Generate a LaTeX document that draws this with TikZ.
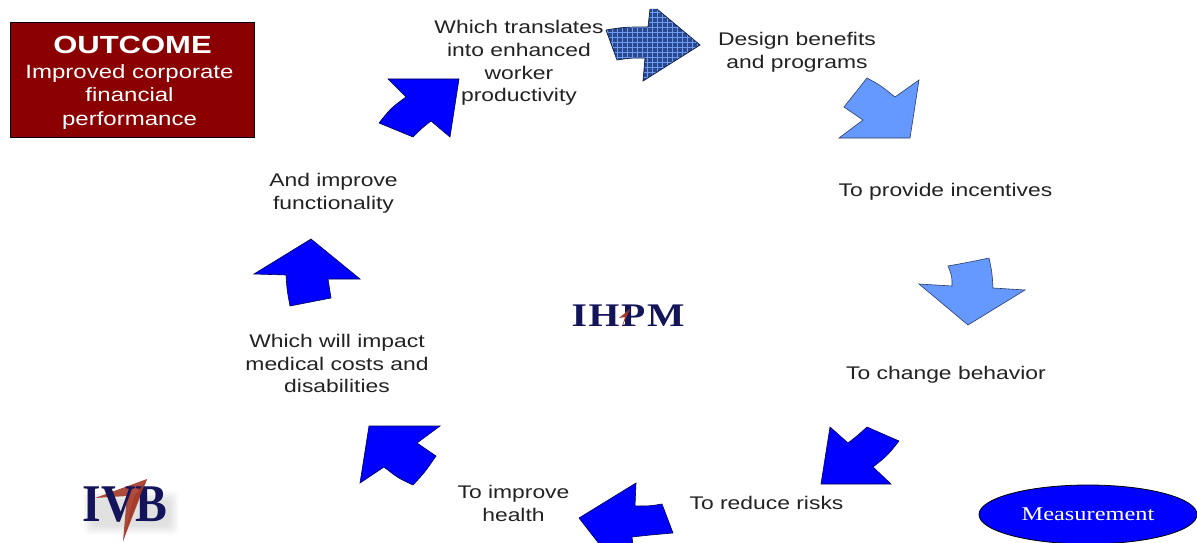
\documentclass[tikz,border=0pt]{standalone}
\usepackage{fontspec}
\usetikzlibrary{shapes.geometric}
\setmainfont{Liberation Sans}
\newfontfamily\lab[FakeStretch=1.25]{Liberation Sans}
\newfontfamily\logoA[FakeStretch=1.2,LetterSpace=5]{Liberation Serif}
\newfontfamily\logoB[FakeStretch=0.9]{Liberation Serif}
\newfontfamily\meas[FakeStretch=1.25]{Liberation Serif}
\definecolor{txt}{HTML}{222222}
\definecolor{strong}{HTML}{0000FF}
\definecolor{soft}{HTML}{6699FF}
\definecolor{hatchbg}{HTML}{2A4890}
\definecolor{hatchline}{HTML}{6E9CF0}
\definecolor{maroon}{HTML}{8B0000}
\definecolor{navy}{HTML}{14145A}
\definecolor{swoosh}{HTML}{A63A28}
\tikzset{
  x=1pt,y=-1pt,
  label text/.style={font=\lab\fontsize{18.3}{22.8}\selectfont,text=txt,align=center,inner sep=0pt},
  box text/.style={font=\lab\fontsize{19.2}{23.7}\selectfont,text=white,align=center,inner sep=0pt},
  bigarrow/.style={fill=strong,draw=black!70!strong,line width=.6pt,line join=miter},
  softarrow/.style={fill=soft,draw=black!60!soft,line width=.6pt,line join=miter},
}
\begin{document}
\begin{tikzpicture}
\useasboundingbox (0,0) rectangle (1197,543);
\clip (0,0) rectangle (1197,543);
\fill[white] (0,0) rectangle (1197,543);

% outcome box
\node[draw=black,line width=.8pt,fill=maroon,minimum width=244pt,minimum height=115pt,inner sep=0pt] (outcomebox) at (132,79.5) {};
\node[font=\lab\bfseries\fontsize{24.8}{26}\selectfont,text=white,inner sep=0pt] (outcome) at (132.5,45) {OUTCOME};
\node[box text] (improved) at (129.5,97) {Improved corporate\\financial\\performance};

% labels
\node[label text] (l1) at (519,63) {Which translates\\into enhanced\\worker\\productivity};
\node[label text] (l2) at (797,52) {Design benefits\\and programs};
\node[label text] (l3) at (945.5,192) {To provide incentives};
\node[label text] (l4) at (946,375) {To change behavior};
\node[label text] (l5) at (766.5,503) {To reduce risks};
\node[label text] (l6) at (513.5,503.5) {To improve\\health};
\node[label text] (l7) at (337,363.5) {Which will impact\\medical costs and\\disabilities};
\node[label text] (l8) at (333.5,193) {And improve\\functionality};

% hatched arrow
\begin{scope}
\clip (606,30) .. controls (625,27) .. (648,27) -- (650,9) -- (657,9) -- (700,45) -- (643,81) -- (645,58) .. controls (630,58) .. (617,60) -- cycle;
\fill[hatchbg] (600,0) rectangle (705,85);
\foreach \g in {0,...,21} {
  \draw[hatchline,line width=.9pt] (602+5*\g,0) -- (602+5*\g,85);
}
\foreach \g in {0,...,16} {
  \draw[hatchline,line width=.9pt] (600,2+5*\g) -- (705,2+5*\g);
}
\end{scope}
\draw[black!60!hatchbg,line width=.7pt] (606,30) .. controls (625,27) .. (648,27) -- (650,9) (657,9) -- (700,45) -- (643,81) -- (645,58) .. controls (630,58) .. (617,60) -- (606,30);

% arrows around the cycle
\draw[softarrow] (867,78) .. controls (880,85) .. (895,97) -- (919,80) -- (910,138) -- (839,138) -- (863,120) -- (844,107) -- cycle;
\draw[softarrow] (948,266) .. controls (970,262) .. (989,258) .. controls (992,272) .. (993,288) -- (1025,290) -- (968,325) -- (919,284) -- (952,286) .. controls (952,276) .. (948,266) -- cycle;
\draw[bigarrow] (830,427) -- (848,443) .. controls (857,436) .. (867,427) -- (899,441) .. controls (887,456) .. (873,467) -- (891,484) -- (821,484) -- cycle;
\draw[bigarrow] (579,518) -- (636,483) -- (635,506) .. controls (650,506) .. (662,504) -- (673,533) .. controls (650,535) .. (632,537) -- (633,545) -- (600,545) -- cycle;
\draw[bigarrow] (369,426) -- (440,426) -- (417,443) -- (436,456) .. controls (425,472) .. (413,485) .. controls (398,478) .. (384,467) -- (360,483) -- cycle;
\draw[bigarrow] (311,239) -- (360,279) -- (328,279) .. controls (329,288) .. (331,298) -- (290,306) .. controls (287,290) .. (286,275) -- (254,274) -- cycle;
\draw[bigarrow] (388,79) -- (459,79) -- (450,137) -- (431,121) .. controls (422,128) .. (413,137) -- (379,123) .. controls (391,108) .. (406,97) -- cycle;

% IHPM logo
\node[font=\logoA\bfseries\fontsize{33}{36}\selectfont,text=navy,inner sep=0pt] (ihpm) at (628,315.5) {IHPM};
\path[fill=swoosh] (630,309) -- (619,318) -- (625,317) -- (622,327) -- cycle;

% IVB logo
\foreach \s in {0,1,...,9} {
  \fill[black,opacity=.012,rounded corners=6pt] (92-\s,500-\s) rectangle (170+\s,526+\s);
}
\path[fill=swoosh,opacity=.9] (147,479) -- (95,498) -- (127,496) -- (123,541) -- cycle;
\node[font=\logoB\bfseries\fontsize{53}{55}\selectfont,text=navy,inner sep=0pt] (ivb) at (125,505) {IVB};
\path[fill=swoosh,opacity=.9] (147,479) -- (134,497) -- (123,541) -- (131,517) -- cycle;

% measurement
\node[ellipse,draw=black,fill=strong,line width=.8pt,minimum width=218pt,minimum height=59pt,inner sep=0pt,font=\meas\fontsize{19.5}{21}\selectfont,text=white] (measure) at (1088,514.5) {Measurement};
\end{tikzpicture}
\end{document}
